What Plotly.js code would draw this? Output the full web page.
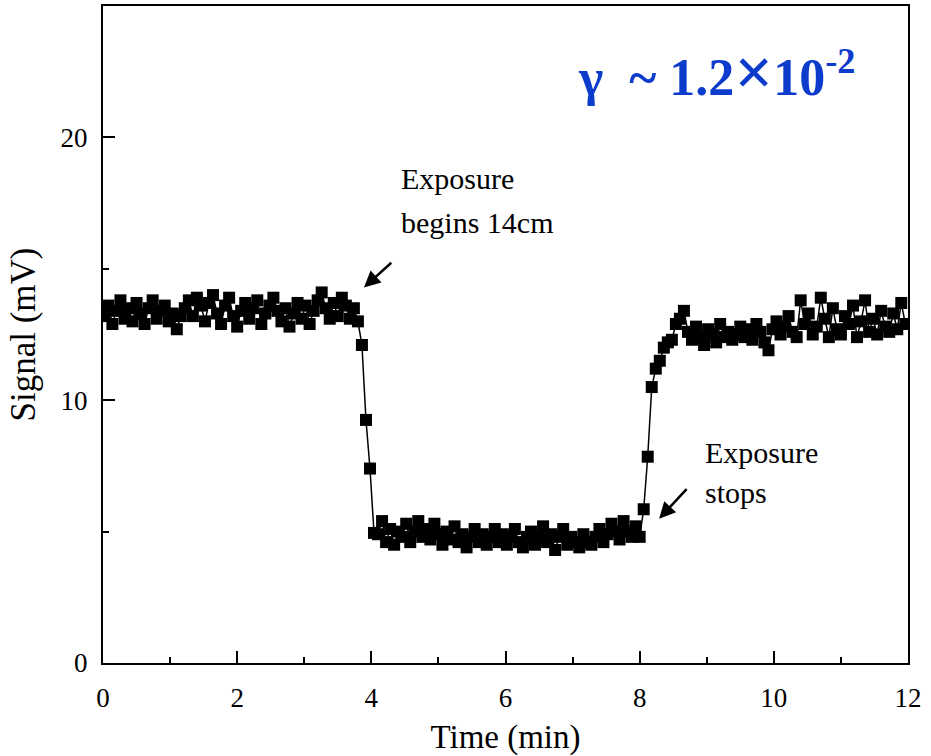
<!DOCTYPE html>
<html>
<head>
<meta charset="utf-8">
<script src="https://cdn.plot.ly/plotly-3.0.1.min.js"></script>
<style>html,body{margin:0;padding:0;background:#fff;}#chart{width:931px;height:756px;}</style>
</head>
<body>
<div id="chart"></div>
<script>
// Sampling of the time axis (min)
var t0 = 0.02;
var dt = 0.06;

// Signal (mV), segment by segment
var baseline = [13.2,13.6,12.9,13.4,13.8,13.1,13.5,13.0,13.7,13.3,
  12.9,13.5,13.8,13.1,13.4,13.6,13.0,13.3,12.7,13.2,
  13.5,13.8,13.2,13.9,13.6,13.0,13.7,14.0,13.3,12.9,
  13.6,13.9,13.2,12.8,13.4,13.7,13.1,13.5,13.8,12.9,
  13.3,13.6,13.9,13.4,13.0,13.5,12.8,13.3,13.7,13.1,
  13.6,12.9,13.4,13.8,14.1,13.5,13.1,13.7,13.2,13.9,
  13.6,13.1,13.5,13.0];
var fall = [12.1,9.25,7.4,4.95];
var exposed = [4.9,5.4,4.6,5.1,4.5,5.0,4.8,5.3,4.6,5.0,
  5.4,4.8,5.1,4.7,5.3,4.9,4.5,5.0,4.7,5.2,
  4.6,4.9,4.4,4.8,5.1,4.6,4.9,4.5,4.8,5.1,
  4.6,4.9,4.5,4.8,5.1,4.6,4.4,4.8,5.0,4.5,
  4.8,5.2,4.6,4.9,4.3,4.8,5.1,4.5,4.8,4.6,
  4.4,4.9,4.6,4.5,4.8,5.1,4.6,4.9,5.3,5.0,
  4.7,5.4,5.0,4.8,5.2,4.8];
var rise = [5.85,7.85,10.5,11.2,11.5,12.0,12.2,12.3,12.9,13.1,13.4];
var recovered = [12.6,12.3,12.8,12.4,12.1,12.7,12.5,12.2,12.9,12.4,
  12.6,12.3,12.5,12.8,12.4,12.7,12.3,12.9,12.6,12.2,
  11.9,12.7,13.0,12.5,12.8,13.2,12.6,12.4,13.8,12.9,
  13.3,12.5,12.8,13.9,13.1,12.4,13.5,12.7,12.5,13.2,
  12.9,13.6,12.4,13.0,13.8,12.6,13.1,12.5,13.4,12.8,
  12.6,13.3,12.7,13.7,12.9];

var xTickVals = [0,2,4,6,8,10,12];
var xTickText = ['0','2','4','6','8','10','12'];
var yTickVals = [0,10,20];
var yTickText = ['0','10','20'];

var signal = baseline.concat(fall, exposed, rise, recovered);
var time = signal.map(function(_, i){ return +(t0 + i*dt).toFixed(3); });

var serif = 'Liberation Serif, Times New Roman, serif';
var trace = {
  x: time, y: signal, type: 'scatter', mode: 'lines+markers',
  line: {color: '#000', width: 1.5},
  marker: {symbol: 'square', size: 12, color: '#000'},
  hoverinfo: 'x+y'
};

var layout = {
  width: 931, height: 756,
  margin: {l: 103, r: 23, t: 6, b: 93},
  paper_bgcolor: '#fff', plot_bgcolor: '#fff',
  showlegend: false,
  font: {family: serif, color: '#000'},
  xaxis: {
    range: [0, 12], tickvals: xTickVals, ticktext: xTickText,
    ticks: 'inside', ticklen: 12, tickwidth: 2, tickcolor: '#000',
    minor: {dtick: 1, tick0: 0, ticks: 'inside', ticklen: 6, tickwidth: 2, tickcolor: '#000', showgrid: false},
    showline: true, linewidth: 2, linecolor: '#000', mirror: true,
    showgrid: false, zeroline: false,
    tickfont: {family: serif, size: 27, color: '#000'},
    ticklabelstandoff: 10,
    title: {text: 'Time (min)', font: {family: serif, size: 33, color: '#000'}, standoff: 12}
  },
  yaxis: {
    range: [0, 25], tickvals: yTickVals, ticktext: yTickText,
    ticks: 'inside', ticklen: 12, tickwidth: 2, tickcolor: '#000',
    minor: {dtick: 5, tick0: 0, ticks: 'inside', ticklen: 6, tickwidth: 2, tickcolor: '#000', showgrid: false},
    showline: true, linewidth: 2, linecolor: '#000', mirror: true,
    showgrid: false, zeroline: false,
    tickfont: {family: serif, size: 27, color: '#000'},
    ticklabelstandoff: 8,
    title: {text: 'Signal (mV)', font: {family: serif, size: 35, color: '#000'}, standoff: 14}
  },
  annotations: [
    {x: 7.05, y: 22.5, xref: 'x', yref: 'y', xanchor: 'left', yanchor: 'middle', showarrow: false,
     text: '<b>γ  ~ 1.2<span style="font-size:68px">×</span>10<sup>-2</sup></b>',
     font: {family: serif, size: 52, color: '#0d3ccc'}},
    {x: 4.41, y: 18.44, xref: 'x', yref: 'y', xanchor: 'left', yanchor: 'middle', showarrow: false,
     text: 'Exposure', font: {family: serif, size: 30, color: '#000'}},
    {x: 4.41, y: 16.76, xref: 'x', yref: 'y', xanchor: 'left', yanchor: 'middle', showarrow: false,
     text: 'begins 14cm', font: {family: serif, size: 30, color: '#000'}},
    {x: 8.94, y: 8.0, xref: 'x', yref: 'y', xanchor: 'left', yanchor: 'middle', showarrow: false,
     text: 'Exposure', font: {family: serif, size: 30, color: '#000'}},
    {x: 8.94, y: 6.48, xref: 'x', yref: 'y', xanchor: 'left', yanchor: 'middle', showarrow: false,
     text: 'stops', font: {family: serif, size: 30, color: '#000'}},
    {x: 3.89, y: 14.29, ax: 4.32, ay: 15.28, xref: 'x', yref: 'y', axref: 'x', ayref: 'y',
     text: '', showarrow: true, arrowhead: 2, arrowsize: 1.3, arrowwidth: 2.5, arrowcolor: '#000'},
    {x: 8.29, y: 5.49, ax: 8.72, ay: 6.67, xref: 'x', yref: 'y', axref: 'x', ayref: 'y',
     text: '', showarrow: true, arrowhead: 2, arrowsize: 1.3, arrowwidth: 2.5, arrowcolor: '#000'}
  ]
};

Plotly.newPlot('chart', [trace], layout, {staticPlot: true, displayModeBar: false});
</script>
</body>
</html>
